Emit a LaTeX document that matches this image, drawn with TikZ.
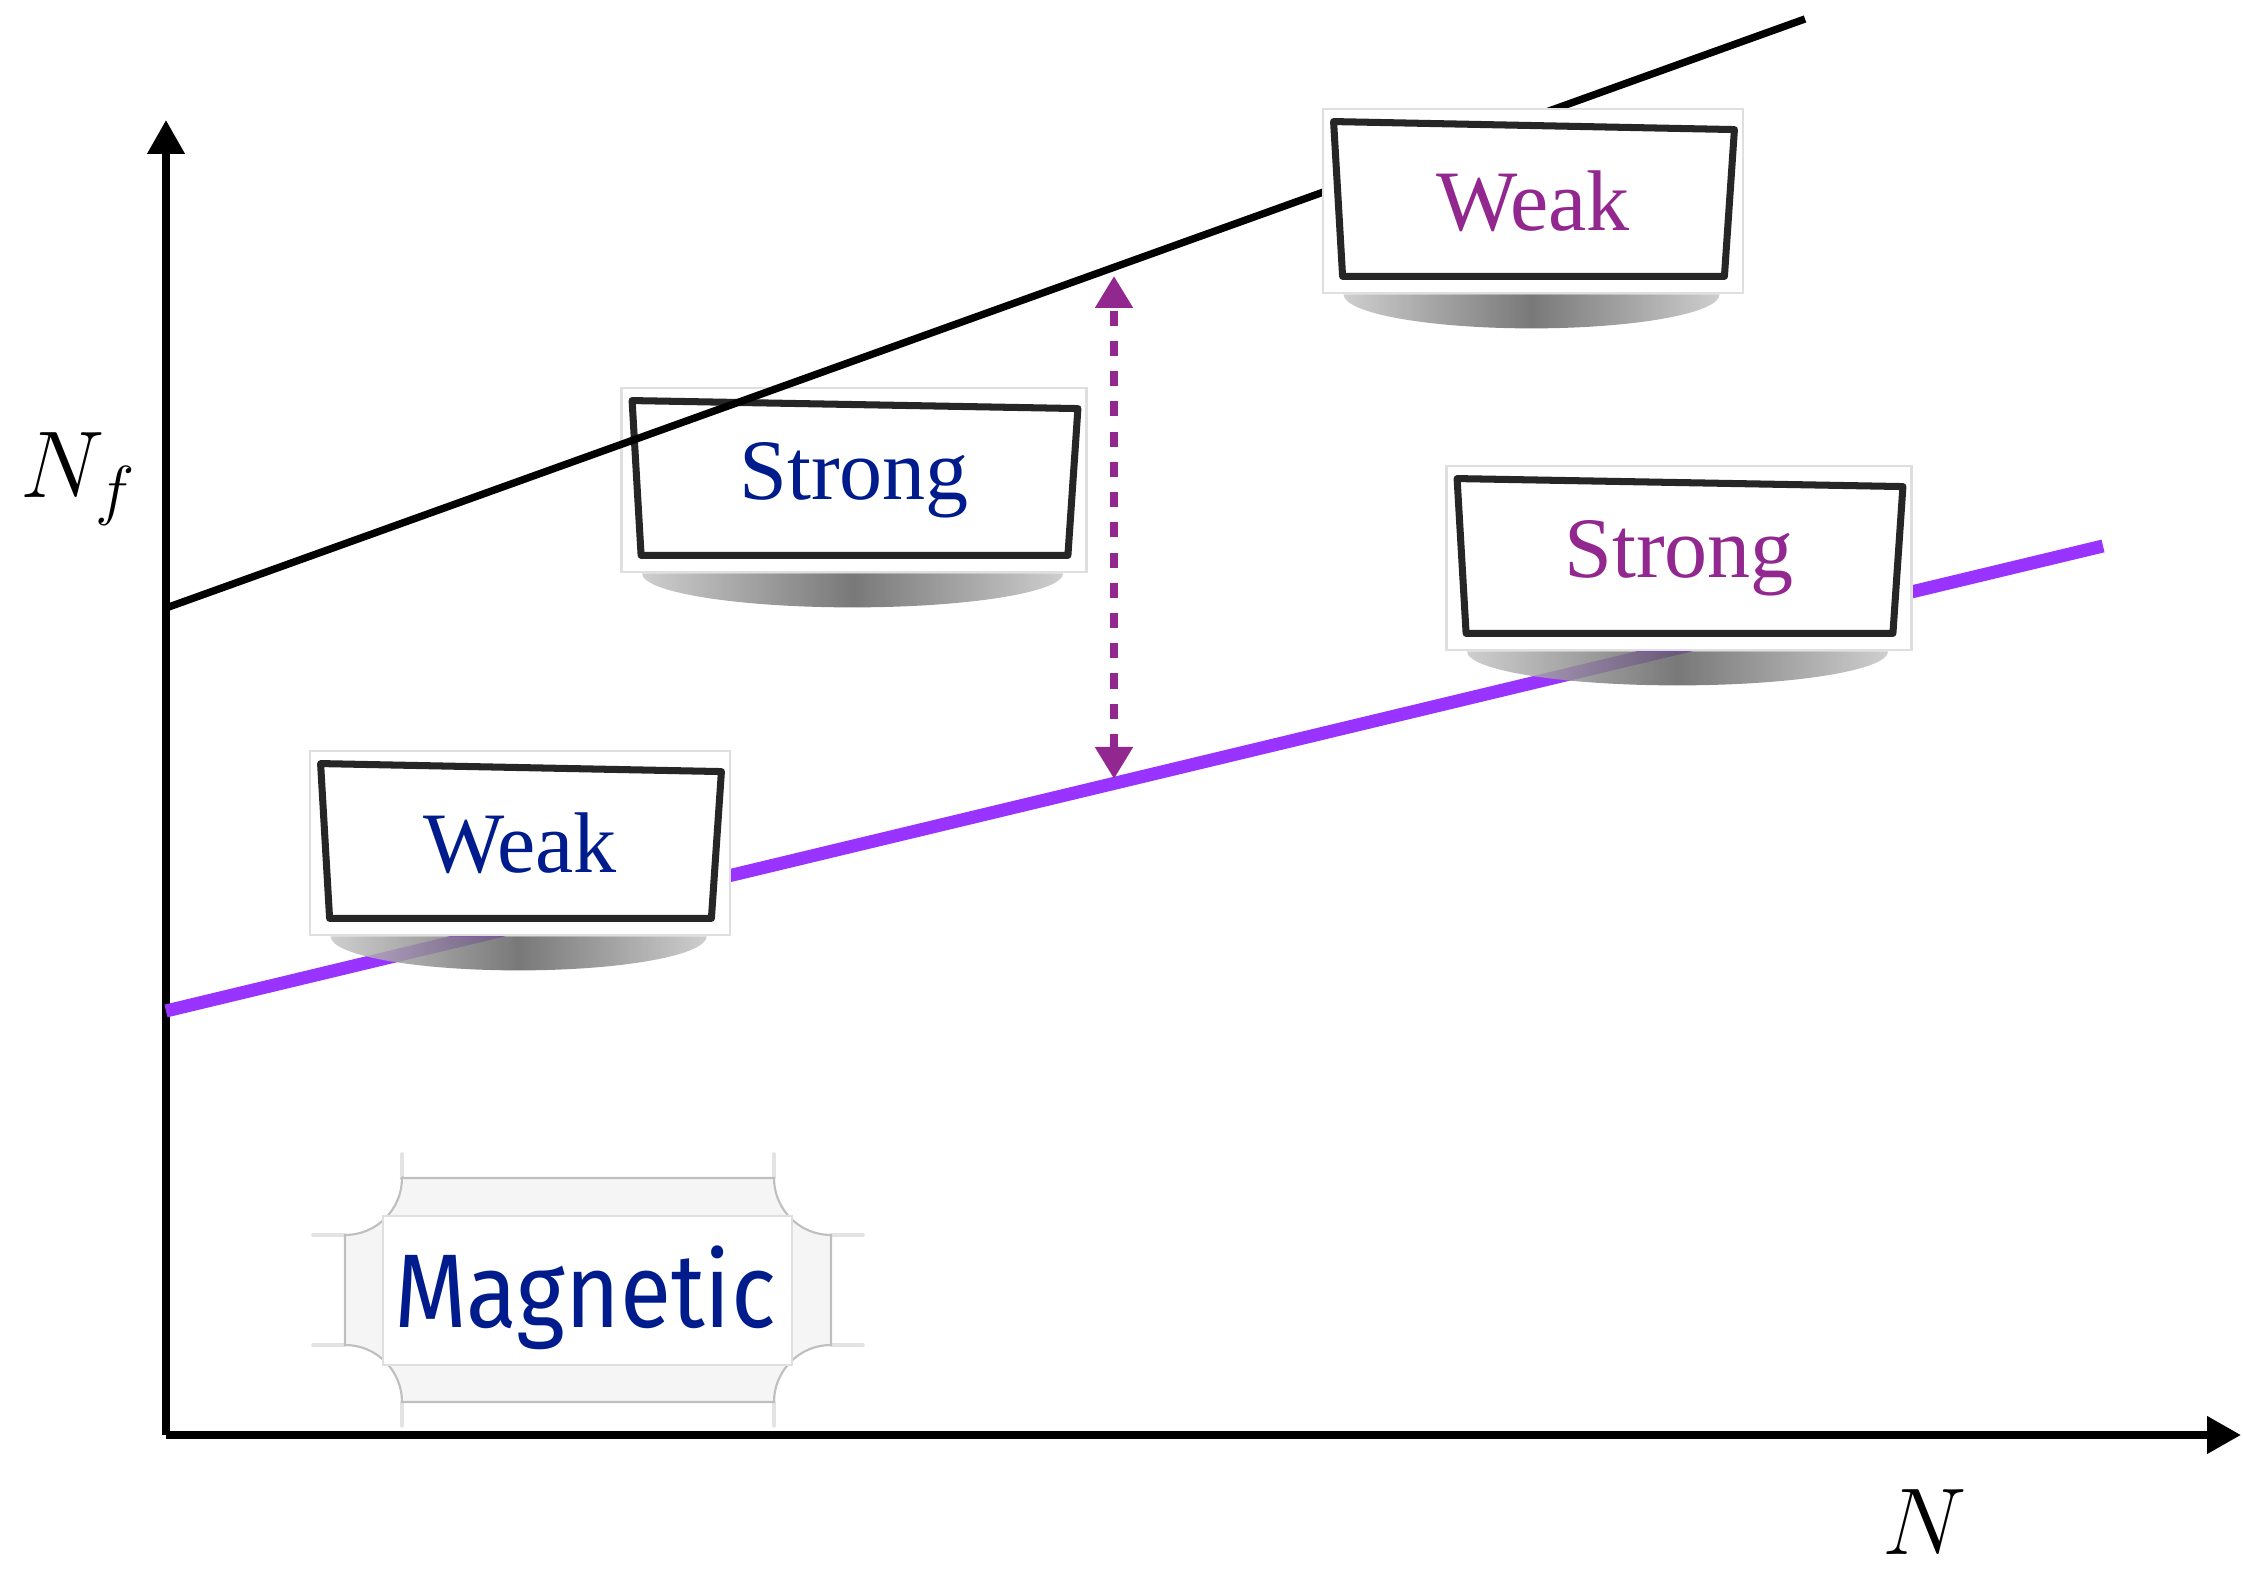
\RequirePackage{fix-cm}
\documentclass[tikz,border=0pt]{standalone}
\usepackage{amsmath,amssymb}
\usepackage{fontspec}
\newfontfamily\ticketfont{Fira Sans}
\newfontfamily\boxfont{Liberation Serif}
\usepackage{tikz}
\usetikzlibrary{arrows.meta}

\definecolor{navy}{RGB}{0,28,140}
\definecolor{plum}{RGB}{146,39,143}
\definecolor{violetline}{RGB}{153,51,255}

\begin{document}
\begin{tikzpicture}[
  axis/.style={line width=2.1pt,-{Triangle[width=0.36cm,length=0.34cm]}},
  paper/.style={draw=gray!25,line width=0.8pt,fill=white,minimum height=1.84cm,inner sep=0pt,font=\boxfont\fontsize{24.5}{28}\selectfont},
  frame/.style={draw=black!85,line width=2pt,line join=round},
  papershadow/.style={left color=gray!45,right color=gray!45,middle color=black!62,fill opacity=0.85},
  ticket/.style={fill=gray!8,draw=gray!50,line width=0.6pt},
  whisker/.style={draw=gray!22,line width=1pt,line cap=round},
  gaparrow/.style={plum,line width=2.3pt,dash pattern=on 4.3pt off 4.3pt,{Triangle[width=0.36cm,length=0.32cm]}-{Triangle[width=0.36cm,length=0.32cm]}},
]
\useasboundingbox (0,0) rectangle (22.43,15.71);

% axes
\coordinate (o) at (1.66,1.36);
\coordinate (ytop) at (1.66,14.51);
\coordinate (xend) at (22.41,1.36);
\draw[axis] (o) -- (ytop);
\draw[axis] (o) -- (xend);
\node[anchor=base west,inner sep=0pt,font=\fontsize{27}{30}\selectfont] (nflabel) at (0.20,10.73) {$N_f$};
\node[anchor=base west,inner sep=0pt,font=\fontsize{27}{30}\selectfont] (nlabel) at (18.82,0.16) {$N$};

% lower line
\coordinate (cwL) at (1.66,5.60);
\coordinate (cwR) at (21.03,10.25);
\draw[violetline,line width=3.7pt] (cwL) -- (cwR);

% boxes on the lower line
\node[paper,minimum width=4.20cm,text=navy] (weakB) at (5.20,7.28) {Weak};
\node[paper,minimum width=4.65cm,text=plum] (strongB) at (16.79,10.13) {Strong};
\foreach \b in {weakB,strongB}
  \draw[frame] ([shift={(0.12,-0.14)}]\b.north west) -- ([shift={(-0.10,-0.22)}]\b.north east)
    -- ([shift={(-0.20,0.18)}]\b.south east) -- ([shift={(0.21,0.18)}]\b.south west) -- cycle;
\shade[papershadow] ([xshift=0.22cm]weakB.south west) arc[start angle=180,end angle=360,x radius=1.88cm,y radius=0.34cm] -- cycle;
\shade[papershadow] ([xshift=0.22cm]strongB.south west) arc[start angle=180,end angle=360,x radius=2.105cm,y radius=0.34cm] -- cycle;

% upper line and its boxes
\node[paper,minimum width=4.65cm,text=navy] (strongA) at (8.54,10.91) {Strong};
\draw[frame] ([shift={(0.12,-0.14)}]strongA.north west) -- ([shift={(-0.10,-0.22)}]strongA.north east)
  -- ([shift={(-0.20,0.18)}]strongA.south east) -- ([shift={(0.21,0.18)}]strongA.south west) -- cycle;
\shade[papershadow] ([xshift=0.22cm]strongA.south west) arc[start angle=180,end angle=360,x radius=2.105cm,y radius=0.34cm] -- cycle;
\coordinate (afL) at (1.66,9.63);
\coordinate (afR) at (18.05,15.52);
\draw[line width=2.1pt] (afL) -- (afR);
\node[paper,minimum width=4.20cm,text=plum] (weakA) at (15.33,13.70) {Weak};
\draw[frame] ([shift={(0.12,-0.14)}]weakA.north west) -- ([shift={(-0.10,-0.22)}]weakA.north east)
  -- ([shift={(-0.20,0.18)}]weakA.south east) -- ([shift={(0.21,0.18)}]weakA.south west) -- cycle;
\shade[papershadow] ([xshift=0.22cm]weakA.south west) arc[start angle=180,end angle=360,x radius=1.88cm,y radius=0.34cm] -- cycle;

% gap between the lines
\coordinate (gapTop) at (11.14,12.95);
\coordinate (gapBot) at (11.14,7.92);
\draw[gaparrow] (gapBot) -- (gapTop);

% magnetic ticket
\begin{scope}[shift={(5.88,2.81)}]
\foreach \sx/\sy in {1/1,1/-1,-1/1,-1/-1}
  \draw[whisker] (\sx*1.86,\sy*1.12) -- ++(0,\sy*0.24) (\sx*2.43,\sy*0.55) -- ++(\sx*0.32,0);
\filldraw[ticket] (-1.86,1.12) -- (1.86,1.12) arc[start angle=180,end angle=270,radius=0.57]
  -- (2.43,-0.55) arc[start angle=90,end angle=180,radius=0.57]
  -- (-1.86,-1.12) arc[start angle=0,end angle=90,radius=0.57]
  -- (-2.43,0.55) arc[start angle=270,end angle=360,radius=0.57] -- cycle;
\filldraw[fill=white,draw=gray!25] (-2.05,-0.75) rectangle (2.04,0.74);
\end{scope}
\node[anchor=base,font=\ticketfont\fontsize{26.6}{30}\selectfont,text=navy] (magnetic) at (5.85,2.43) {\scalebox{1}[1.12]{Magnetic}};
\end{tikzpicture}
\end{document}
